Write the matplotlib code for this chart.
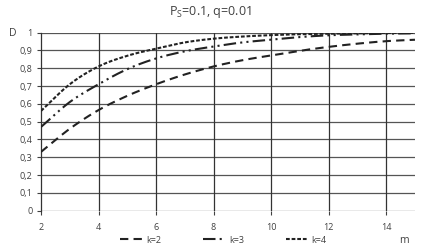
import matplotlib
matplotlib.use("Agg")
import matplotlib.pyplot as plt
import numpy as np

# Values at integer m
m = [2, 3, 4, 5, 6, 7, 8, 9, 10, 11, 12, 13, 14, 15]
d_k2 = [0.33, 0.46, 0.565, 0.645, 0.71, 0.765, 0.81, 0.845, 0.872, 0.898, 0.92, 0.938, 0.952, 0.96]
d_k3 = [0.47, 0.61, 0.71, 0.795, 0.855, 0.895, 0.922, 0.945, 0.96, 0.975, 0.985, 0.99, 0.994, 0.996]
d_k4 = [0.56, 0.71, 0.81, 0.87, 0.91, 0.945, 0.966, 0.978, 0.986, 0.991, 0.994, 0.996, 0.998, 0.999]
series_labels = ["k=2", "k=3", "k=4"]
x_ticks = [2, 4, 6, 8, 10, 12, 14]
y_ticks = [0, 0.1, 0.2, 0.3, 0.4, 0.5, 0.6, 0.7, 0.8, 0.9, 1]

TXT = "#404040"
plt.rcParams["font.family"] = ["Open Sans", "DejaVu Sans"]


def smooth(x, y, n=12):
    """Catmull-Rom curve through the points (like a spreadsheet 'smoothed line')."""
    x = np.asarray(x, float); y = np.asarray(y, float)
    px = np.concatenate([[2 * x[0] - x[1]], x, [2 * x[-1] - x[-2]]])
    py = np.concatenate([[2 * y[0] - y[1]], y, [2 * y[-1] - y[-2]]])
    t = np.linspace(0, 1, n, endpoint=False)
    xs, ys = [], []
    for i in range(1, len(px) - 2):
        for p, out in ((px, xs), (py, ys)):
            p0, p1, p2, p3 = p[i - 1], p[i], p[i + 1], p[i + 2]
            out.extend(0.5 * (2 * p1 + (-p0 + p2) * t + (2 * p0 - 5 * p1 + 4 * p2 - p3) * t ** 2
                              + (-p0 + 3 * p1 - 3 * p2 + p3) * t ** 3))
    xs.append(x[-1]); ys.append(y[-1])
    return xs, ys


fig = plt.figure(figsize=(4.24, 2.49), dpi=100)
ax = fig.add_axes([0.0967, 0.154, 0.882, 0.715])

styles = [
    dict(dashes=(4, 2.5), color="#222222", lw=1.5),
    dict(dashes=(6, 2, 1, 2, 1, 2), color="#222222", lw=1.5),
    dict(dashes=(1.8, 0.9), color="#222222", lw=1.5),
]
handles = []
for vals, st, lab in zip([d_k2, d_k3, d_k4], styles, series_labels):
    sx, sy = smooth(m, vals)
    ln, = ax.plot(sx, sy, label=lab, zorder=3, **st)
    handles.append(ln)

ax.set_xlim(2, 15)
ax.set_ylim(0, 1)
ax.set_xticks(x_ticks)
ax.set_yticks(y_ticks)
ax.set_yticklabels([("%g" % v).replace(".", ",") for v in y_ticks])

# grid: horizontal every 0.1, vertical at even m
for v in y_ticks:
    ax.axhline(v, color="#555555", lw=0.9, zorder=1)
for v in x_ticks[1:]:
    ax.axvline(v, color="#333333", lw=0.9, zorder=1)

for s in ("top", "right", "bottom"):
    ax.spines[s].set_visible(False)
ax.spines["left"].set_color("#333333")
ax.spines["left"].set_linewidth(0.9)
ax.tick_params(axis="both", labelsize=6.5, colors=TXT, length=3, width=0.8, pad=3)
ax.tick_params(axis="x", pad=6)

fig.text(0.497, 0.953, r"P$_\mathregular{S}$=0.1, q=0.01", ha="center", va="center",
         fontsize=9, color=TXT)
fig.text(0.03, 0.867, "D", ha="center", va="center", fontsize=7.5, color=TXT)
fig.text(0.953, 0.036, "m", ha="center", va="center", fontsize=7.5, color=TXT)

fig.legend(handles=handles, loc="center", bbox_to_anchor=(0.527, 0.036), ncol=3,
           frameon=False, fontsize=6.5, handlelength=2.4, handletextpad=0.5,
           columnspacing=4.6, labelcolor=TXT)

fig.savefig("out.png", dpi=100, facecolor="white")
